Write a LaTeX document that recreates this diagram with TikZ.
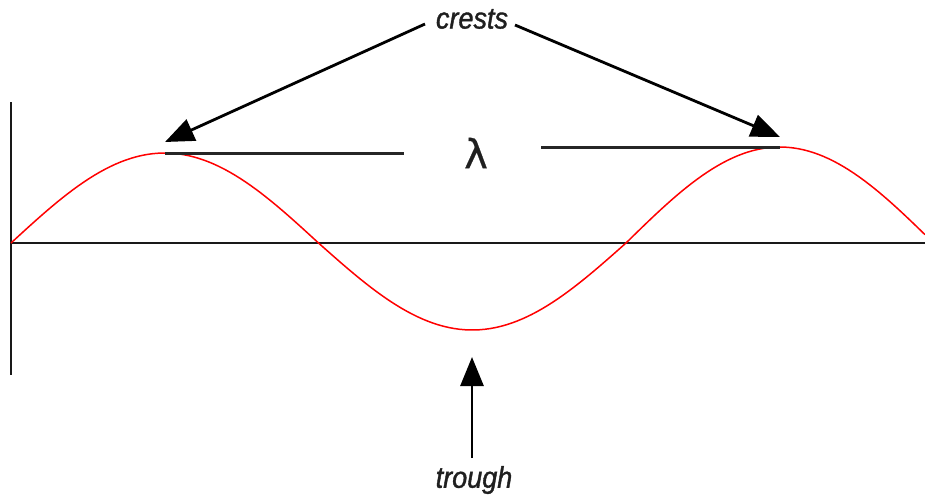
\documentclass[tikz,border=0pt]{standalone}
\usepackage{fontspec}
\setmainfont{Liberation Sans}
\newfontfamily\labfont{Liberation Sans}[FakeStretch=0.9,FakeBold=1.2]
\newfontfamily\lamfont{DejaVu Sans}[FakeBold=0.6]
\usetikzlibrary{arrows.meta}
\begin{document}
\begin{tikzpicture}[x=1pt,y=-1pt,
  axis/.style={line width=2.2pt,black!90},
  wave/.style={red,line width=1.5pt},
  lamline/.style={line width=3pt,black!85},
  pointer/.style={line width=2.8pt,black,-{Triangle[length=29pt,width=23pt]}},
  lab/.style={font=\labfont\fontsize{30}{32}\selectfont\itshape,text=black!88,inner sep=0pt}]
\useasboundingbox (0,0) rectangle (925,498);
% axes
\coordinate (vtop) at (11,102);
\coordinate (vbot) at (11,375);
\coordinate (o) at (11,243);
\coordinate (hend) at (925,243);
\draw[axis] (vtop) -- (vbot);
\draw[axis] (o) -- (hend);
% wave
\draw[wave] plot[domain=11:318.5,samples=60] (\x,{243-90*sin((\x-11)/615*360)})
  -- plot[domain=318.5:626,samples=60] (\x,{243-87*sin((\x-11)/615*360)})
  -- plot[domain=626:925,samples=60] (\x,{243-96*sin((\x-11)/615*360)});
% crests and lambda
\coordinate (c1) at (165,153);
\coordinate (c2) at (780,147);
\coordinate (l1) at (404,153);
\coordinate (l2) at (541,147);
\draw[lamline] (c1) -- (l1);
\draw[lamline] (l2) -- (c2);
\node[inner sep=0pt,font=\lamfont\fontsize{40}{42}\selectfont,text=black!88] (lam) at (476,153) {λ};
% labels
\node[lab] (crests) at (472,19) {crests};
\node[lab] (trough) at (474,480) {trough};
\coordinate (a1) at (425,24);
\coordinate (a2) at (515,25);
\coordinate (t1) at (165,142);
\coordinate (t2) at (780,137);
\coordinate (b1) at (472,458);
\coordinate (b2) at (472,357);
\draw[pointer] (a1) -- (t1);
\draw[pointer] (a2) -- (t2);
\draw[pointer] (b1) -- (b2);
\end{tikzpicture}
\end{document}
